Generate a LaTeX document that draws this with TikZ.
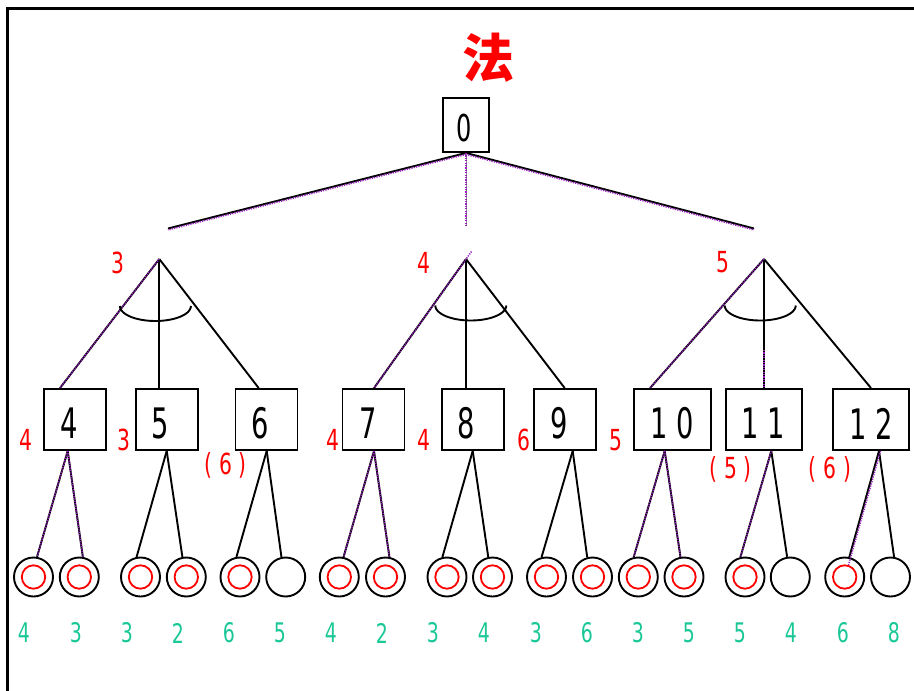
\documentclass[tikz,border=0pt]{standalone}
\usepackage{fontspec}
\newfontfamily\digfont[FakeStretch=0.65]{DejaVu Sans}
\newfontfamily\labfont[FakeStretch=0.7]{DejaVu Sans}
\newfontfamily\cjkfont{Noto Sans CJK SC}
\definecolor{labred}{RGB}{255,0,0}
\definecolor{valgreen}{RGB}{25,200,150}
\definecolor{solpurple}{RGB}{150,30,190}
\begin{document}
\begin{tikzpicture}[x=1pt,y=-1pt,
  box/.style={draw, line width=1.9pt, minimum width=62pt, minimum height=61pt, inner sep=0pt},
  wbox/.style={box, minimum width=77pt},
  leaf/.style={draw, circle, line width=1.9pt, minimum size=39pt, inner sep=0pt},
  ring/.style={draw=labred, circle, line width=1.8pt, minimum size=23.4pt, inner sep=0pt},
  edge/.style={line width=1.9pt},
  sol/.style={draw=solpurple, line width=1.5pt, dash pattern=on 1.2pt off 1.2pt},
  digit/.style={inner sep=0pt, font=\digfont\fontsize{42}{42}\selectfont},
  rootdigit/.style={inner sep=0pt, font=\digfont\fontsize{37}{37}\selectfont},
  redlab/.style={inner sep=0pt, text=labred, font=\labfont\fontsize{29}{29}\selectfont},
  val/.style={inner sep=0pt, text=valgreen, font=\labfont\fontsize{27}{27}\selectfont}
]
\useasboundingbox (0,0) rectangle (914,691);
\fill[white] (0,0) rectangle (914,691);
% frame
\draw[line width=2.7pt] (7.3,700) -- (7.3,8.7) -- (920,8.7);
% title
\node[inner sep=0pt, text=labred, font=\cjkfont\bfseries\fontsize{52}{52}\selectfont] (title) at (488,58) {法};
% root
\node[draw, line width=1.9pt, minimum width=46pt, minimum height=54pt, inner sep=0pt] (root) at (466,125) {};
\node[rootdigit] (t0) at (464.5,128.5) {0};
% top-level ends and apexes
\coordinate (c1) at (168,228.5);
\coordinate (c2) at (466,226);
\coordinate (c3) at (754,228.5);
\coordinate (a1) at (159.3,259);
\coordinate (a2) at (466,259);
\coordinate (a3) at (764,259);
\draw[edge] (root.south) -- (c1);
\draw[edge] (root.south) -- (c3);
\draw[sol, transform canvas={yshift=-1.4pt}] (root.south) -- (c1);
\draw[sol, transform canvas={yshift=-1.4pt}] (root.south) -- (c3);
\draw[line width=0.6pt, black!45] (root.south) -- (c2);
\draw[sol, line width=1.4pt] (root.south) -- (c2);
% boxes
\node[box] (b4) at (75,419.5) {};
\node[box] (b5) at (167,419.5) {};
\node[box] (b6) at (266.5,419.5) {};
\node[box] (b7) at (373.5,419.5) {};
\node[box] (b8) at (473,419.5) {};
\node[box] (b9) at (565,419.5) {};
\node[wbox] (b10) at (672.5,419.5) {};
\node[box, minimum width=76pt] (b11) at (764,419.5) {};
\node[box, minimum width=76pt] (b12) at (871,419.5) {};
\node[digit] (t4) at (69.5,423.5) {4};
\node[digit] (t5) at (160,423.5) {5};
\node[digit] (t6) at (260,423.5) {6};
\node[digit] (t7) at (368,423.5) {7};
\node[digit] (t8) at (466,423.5) {8};
\node[digit] (t9) at (559,423.5) {9};
\node[digit] (t10) at (672,423.5) {1 0};
\node[digit] (t11) at (763,423.5) {1 1};
\node[digit] (t12) at (871,423.5) {1 2};
% apex edges
\draw[edge] (a1) -- ([xshift=-15pt]b4.north);
\draw[edge] (a1) -- ([xshift=-7.7pt]b5.north);
\draw[edge] (a1) -- ([xshift=-7.8pt]b6.north);
\draw[edge] (a2) -- ([xshift=0.5pt]b7.north);
\draw[edge] (a2) -- ([xshift=-7pt]b8.north);
\draw[edge] (a2) -- ([xshift=-0.3pt]b9.north);
\draw[edge] (a3) -- ([xshift=-22.5pt]b10.north);
\draw[edge] (a3) -- (b11.north);
\draw[edge] (a3) -- (b12.north);
\coordinate (x2) at (471.5,251.5);
\coordinate (m11) at (764,350);
\draw[sol] (a1) -- ([xshift=-15pt]b4.north);
\draw[sol] (x2) -- ([xshift=0.5pt]b7.north);
\draw[sol] (a3) -- ([xshift=-22.5pt]b10.north);
\draw[sol] (m11) -- (b11.north);
% AND arcs
\foreach \cx/\cy in {155.4/306, 470.8/305.5, 760.2/305.5}
  \draw[edge] plot[domain=180:360, samples=40, smooth] ({\cx+35.5*cos(\x)}, {\cy-15*sin(\x)});
% red labels
\node[redlab] (q1) at (117.5,262.5) {3};
\node[redlab] (q2) at (424,262.5) {4};
\node[redlab] (q3) at (722.5,262.5) {5};
\node[redlab] (f4) at (26,440) {4};
\node[redlab] (f5) at (123.5,440) {3};
\node[redlab] (f7) at (332.5,440) {4};
\node[redlab] (f8) at (424,440) {4};
\node[redlab] (f9) at (524,440) {6};
\node[redlab] (f10) at (616,440) {5};
\node[redlab] (g6) at (225.5,465.5) {(\kern7pt 6\kern7pt)};
\node[redlab] (g11) at (730.5,469) {(\kern7pt 5\kern7pt)};
\node[redlab] (g12) at (830,469) {(\kern7pt 6\kern7pt)};
% box bottom points
\coordinate (p4) at ([xshift=-7.3pt]b4.south);
\coordinate (p5) at ([xshift=-0.3pt]b5.south);
\coordinate (p6) at ([xshift=0.2pt]b6.south);
\coordinate (p7) at ([xshift=0.5pt]b7.south);
\coordinate (p8) at ([xshift=-0.3pt]b8.south);
\coordinate (p9) at ([xshift=7.7pt]b9.south);
\coordinate (p10) at ([xshift=-7.8pt]b10.south);
\coordinate (p11) at ([xshift=7.3pt]b11.south);
\coordinate (p12) at ([xshift=8pt]b12.south);
% leaves
\foreach \i/\x in {1/33.5, 2/79.3, 3/140.5, 4/186.3, 5/240, 6/285.7, 7/339.3, 8/385.5, 9/447, 10/492.5, 11/546.5, 12/592.5, 13/638.3, 14/684, 15/745, 16/790.3, 17/844.7, 18/890.5}
  \node[leaf] (l\i) at (\x,577) {};
\foreach \i in {1,2,3,4,5,7,8,9,10,11,12,13,14,15,17}
  \node[ring] (r\i) at (l\i) {};
\foreach \b/\l/\a in {4/1/80, 4/2/80, 5/3/101, 5/4/101, 6/5/100, 6/6/102, 7/7/78, 7/8/79, 8/9/103, 8/10/102, 9/11/104, 9/12/105, 10/13/103, 10/14/100, 11/15/103, 11/16/99, 12/17/77, 12/18/80}
  \draw[edge] (p\b) -- (l\l.\a);
\foreach \b/\l/\a in {4/1/80, 4/2/80, 7/7/78, 7/8/79, 10/13/103, 10/14/100, 11/15/103}
  \draw[sol] (p\b) -- (l\l.\a);
\coordinate (s17) at (848.5,565);
\draw[sol] ([xshift=1.5pt]p12) -- (s17);
% leaf values
\foreach \x/\v in {24/4, 76/3, 127/3, 178/2, 229/6, 280/5, 331/4, 382/2, 433/3, 484/4, 536/3, 587/6, 638/3, 689/5, 740/5, 791/4, 843/6, 894/8}
  \node[val] (v\x) at (\x,633) {\v};
\end{tikzpicture}
\end{document}
